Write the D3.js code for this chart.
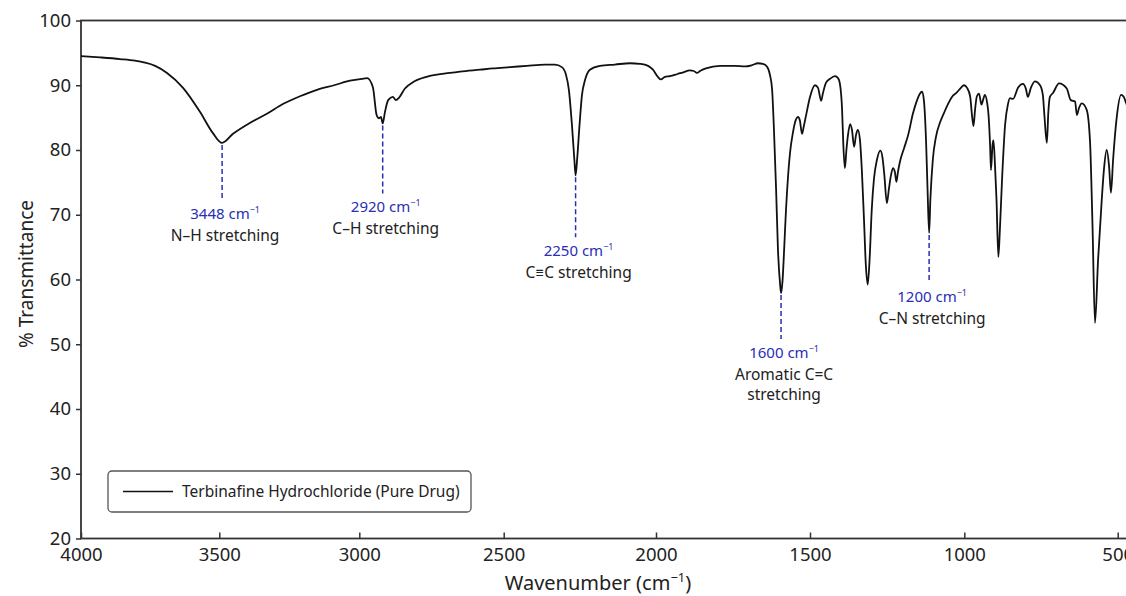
<!DOCTYPE html>
<html>
<head>
<meta charset="utf-8">
<script src="https://cdn.jsdelivr.net/npm/d3@7"></script>
<style>
  body { margin: 0; background: #fff; }
  svg { display: block; font-family: "Noto Sans", Lato, sans-serif; }
</style>
</head>
<body>
<div id="main-vis"></div>
<script>
// spectrum: wavenumber (cm-1) and % transmittance
var wavenumber = [4000, 3931, 3859, 3805, 3769, 3732, 3689, 3631, 3570, 3523, 3490, 3451, 3390, 3330, 3273, 3212,
  3151, 3090, 3033, 2991, 2973, 2953, 2940, 2932, 2925, 2919, 2911, 2900, 2884, 2873, 2862, 2842, 2813, 2767,
  2686, 2651, 2582, 2537, 2479, 2424, 2364, 2332, 2309, 2296, 2286, 2276, 2268, 2264, 2259, 2251, 2243, 2233,
  2217, 2184, 2135, 2085, 2053, 2026, 2010, 1994, 1984, 1971, 1955, 1932, 1912, 1890, 1877, 1867, 1857, 1838,
  1792, 1744, 1711, 1688, 1669, 1653, 1640, 1630, 1623, 1617, 1610, 1604, 1597, 1594, 1589, 1584, 1578, 1571,
  1565, 1555, 1549, 1539, 1533, 1526, 1520, 1513, 1500, 1484, 1474, 1464, 1458, 1448, 1435, 1419, 1409, 1403,
  1396, 1392, 1387, 1382, 1377, 1370, 1364, 1357, 1351, 1345, 1338, 1332, 1325, 1319, 1313, 1307, 1300, 1293,
  1283, 1272, 1265, 1259, 1251, 1244, 1238, 1231, 1225, 1220, 1215, 1208, 1195, 1182, 1166, 1153, 1144, 1137,
  1131, 1124, 1119, 1114, 1110, 1102, 1092, 1079, 1066, 1053, 1040, 1024, 1011, 1001, 991, 981, 975, 970, 965,
  959, 952, 944, 939, 933, 926, 921, 916, 913, 908, 905, 900, 895, 889, 884, 877, 867, 858, 851, 841, 825, 809,
  799, 793, 783, 770, 753, 744, 739, 731, 726, 721, 711, 691, 666, 653, 639, 633, 626, 617, 601, 590, 582, 574,
  564, 552, 545, 536, 528, 522, 515, 503, 489, 480, 473, 460];
var transmittance = [94.5, 94.3, 94.05, 93.8, 93.5, 93.0, 91.9, 89.6, 85.9, 82.6, 81.1, 82.5, 84.2, 85.6, 87.1, 88.3,
  89.3, 90.0, 90.7, 91.0, 91.1, 89.7, 85.4, 84.9, 85.1, 84.1, 85.9, 87.7, 88.2, 87.7, 88.1, 89.5, 90.5, 91.3,
  91.9, 92.1, 92.4, 92.6, 92.8, 93.0, 93.2, 93.2, 92.8, 91.7, 89.3, 83.9, 78.5, 76.1, 78.5, 83.9, 88.5, 90.8,
  92.4, 93.0, 93.2, 93.4, 93.3, 93.0, 92.4, 91.3, 90.9, 91.3, 91.4, 91.7, 92.0, 92.3, 92.2, 91.9, 92.2, 92.6,
  93.0, 93.0, 92.9, 93.1, 93.4, 93.3, 92.9, 91.6, 89.3, 83.1, 73.8, 64.6, 59.2, 57.9, 59.9, 64.6, 70.7, 76.1,
  79.5, 82.8, 84.2, 85.1, 84.6, 82.5, 83.7, 85.3, 88.2, 90.0, 89.6, 87.6, 88.8, 90.4, 91.0, 91.4, 91.1, 90.2,
  86.2, 80.8, 77.2, 80.0, 82.3, 84.0, 83.1, 80.5, 82.3, 83.1, 81.5, 76.9, 69.2, 62.2, 59.2, 63.0, 70.7, 75.4,
  78.5, 79.9, 78.8, 76.1, 71.8, 74.1, 76.0, 77.2, 76.6, 75.1, 76.6, 78.3, 80.3, 82.3, 85.7, 87.7, 88.7, 89.0,
  87.7, 81.5, 73.8, 67.2, 72.3, 78.5, 82.0, 84.2, 85.7, 87.1, 88.2, 88.9, 89.6, 90.0, 89.6, 88.3, 85.4, 83.7, 86.2,
  88.3, 88.7, 87.0, 87.7, 88.5, 87.4, 85.4, 80.8, 76.9, 80.8, 81.5, 77.7, 72.3, 63.5, 67.7, 75.4, 83.9, 87.0, 88.0, 87.9, 89.6, 90.2,
  89.4, 88.2, 89.6, 90.6, 90.0, 88.5, 85.4, 81.1, 85.9, 88.2, 88.8, 90.3, 89.5, 87.7, 87.5, 85.4, 86.5, 87.2, 86.2, 81.1, 68.1, 53.3,
  63.0, 72.3, 76.9, 80.0, 77.4, 73.4, 78.5, 85.1, 88.5, 88.2, 87.3, 85.9];

var xTicks = [4000, 3500, 3000, 2500, 2000, 1500, 1000, 500];
var yTicks = [20, 30, 40, 50, 60, 70, 80, 90, 100];

// annotated bands: where the dashed line sits, its label and description
var bandAt = [3490, 2919, 2264, 1594, 1114];
var bandValue = [81.1, 84.1, 76.1, 57.9, 67.2];
var bandLabel = ["3448", "2920", "2250", "1600", "1200"];
var bandText = [["N–H stretching"], ["C–H stretching"], ["C≡C stretching"], ["Aromatic C=C", "stretching"], ["C–N stretching"]];
var bandLineLen = [55, 68, 60, 44, 48];

var seriesName = "Terbinafine Hydrochloride (Pure Drug)";

var W = 1126, H = 596;
var blue = "#2a2eb5";

var data = wavenumber.map(function (w, i) { return { w: w, t: transmittance[i] }; });

// the picture's x axis is slightly uneven, so map tick by tick
var x = d3.scaleLinear()
  .domain([4000, 3500, 3000, 2500, 2000, 1500, 1000, 500, 400])
  .range([81, 219.3, 359.3, 503.7, 656, 810, 964.3, 1117.7, 1148.4]);
var y = d3.scaleLinear().domain([20, 100]).range([538.5, 20.5]);

var svg = d3.select("#main-vis").append("svg")
  .attr("width", W)
  .attr("height", H);

svg.append("rect").attr("width", W).attr("height", H).attr("fill", "#fff");

// y axis
var gy = svg.append("g")
  .attr("transform", "translate(" + x(4000) + ",0)")
  .call(d3.axisLeft(y).tickValues(yTicks).tickSize(5).tickPadding(5));
gy.select(".domain").remove();
gy.selectAll(".tick line").attr("stroke", "#333").attr("stroke-width", 1.5);
gy.selectAll(".tick text").attr("font-size", 18.5).attr("fill", "#222")
  .attr("font-family", "'Noto Sans', sans-serif");

// x axis, ticks pointing inward
var gx = svg.append("g")
  .attr("transform", "translate(0," + y(20) + ")")
  .call(d3.axisBottom(x).tickValues(xTicks).tickFormat(d3.format("d"))
    .tickSizeInner(-6).tickSizeOuter(0).tickPadding(9));
gx.select(".domain").remove();
gx.selectAll(".tick line").attr("stroke", "#333").attr("stroke-width", 1.5);
gx.selectAll(".tick text").attr("font-size", 18.5).attr("fill", "#222")
  .attr("font-family", "'Noto Sans', sans-serif");

// frame
svg.append("rect")
  .attr("x", x(4000))
  .attr("y", y(100))
  .attr("width", x(400) - x(4000))
  .attr("height", y(20) - y(100))
  .attr("fill", "none")
  .attr("stroke", "#333")
  .attr("stroke-width", 1.8);

// annotations
bandAt.forEach(function (w, i) {
  var px = x(w);
  var top = y(bandValue[i]) + 2;
  var bottom = top + bandLineLen[i];
  svg.append("line")
    .attr("x1", px).attr("x2", px)
    .attr("y1", top).attr("y2", bottom)
    .attr("stroke", blue)
    .attr("stroke-width", 1.5)
    .attr("stroke-dasharray", "5,3");
  var lab = svg.append("text")
    .attr("x", px + 3)
    .attr("y", bottom + 19)
    .attr("text-anchor", "middle")
    .attr("font-size", 15)
    .attr("fill", blue);
  lab.append("tspan").text(bandLabel[i] + " cm");
  lab.append("tspan").attr("dy", -6).attr("font-size", 9).text("−1");
  bandText[i].forEach(function (s, j) {
    svg.append("text")
      .attr("x", px + 3)
      .attr("y", bottom + 41 + j * 20)
      .attr("text-anchor", "middle")
      .attr("font-size", 15.5)
      .attr("fill", "#222")
      .text(s);
  });
});

// spectrum
var valueline = d3.line()
  .x(function (d) { return x(d.w); })
  .y(function (d) { return y(d.t); })
  .curve(d3.curveMonotoneX);

svg.append("path")
  .datum(data)
  .attr("fill", "none")
  .attr("stroke", "#111")
  .attr("stroke-width", 1.8)
  .attr("stroke-linejoin", "round")
  .attr("d", valueline);

// legend
var lg = svg.append("g").attr("transform", "translate(108,471)");
lg.append("rect")
  .attr("width", 363).attr("height", 41)
  .attr("rx", 4)
  .attr("fill", "#fff")
  .attr("stroke", "#555")
  .attr("stroke-width", 1.3);
lg.append("line")
  .attr("x1", 15).attr("x2", 65)
  .attr("y1", 20.5).attr("y2", 20.5)
  .attr("stroke", "#111").attr("stroke-width", 1.6);
lg.append("text")
  .attr("x", 74).attr("y", 26)
  .attr("font-size", 15.5)
  .attr("fill", "#222")
  .text(seriesName);

// axis titles
var xt = svg.append("text")
  .attr("x", 598).attr("y", 590)
  .attr("text-anchor", "middle")
  .attr("font-size", 20)
  .attr("fill", "#222");
xt.append("tspan").text("Wavenumber (cm");
xt.append("tspan").attr("dy", -8).attr("font-size", 13).text("−1");
xt.append("tspan").attr("dy", 8).text(")");

svg.append("text")
  .attr("transform", "translate(33,274) rotate(-90)")
  .attr("text-anchor", "middle")
  .attr("font-size", 19)
  .attr("fill", "#222")
  .text("% Transmittance");
</script>
</body>
</html>
